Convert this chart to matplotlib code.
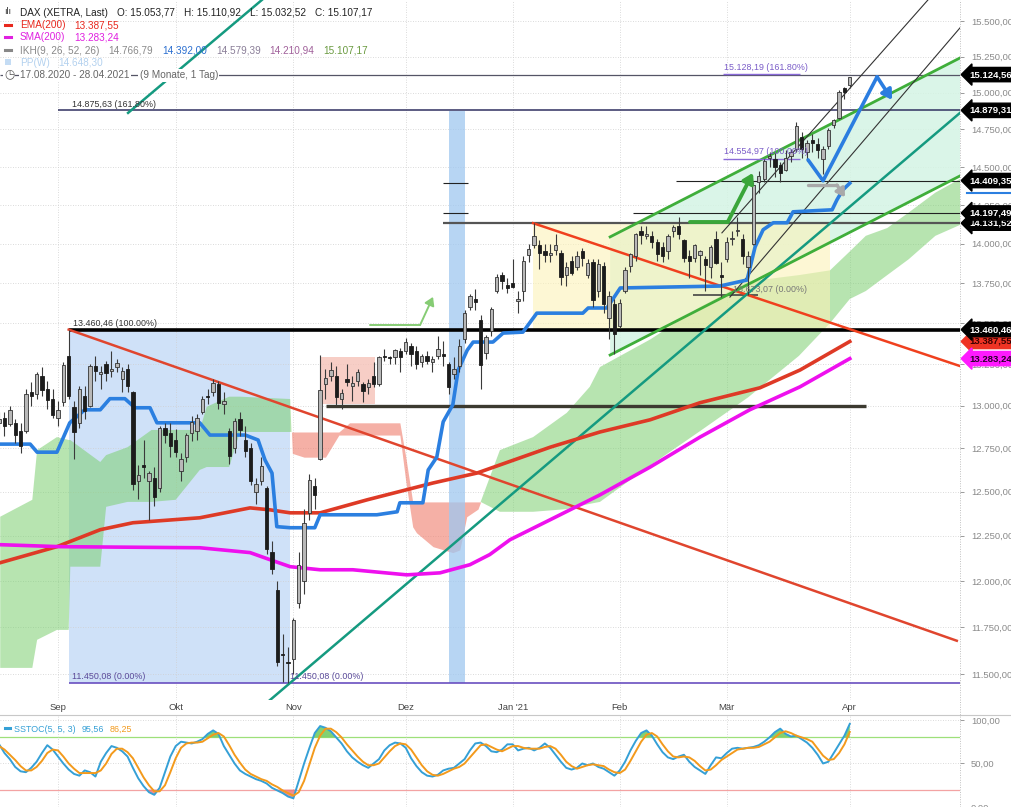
import numpy as np
import matplotlib
matplotlib.use("Agg")
import matplotlib.pyplot as plt
from matplotlib.patches import Rectangle, Polygon
from matplotlib.lines import Line2D

W, H, DPI = 1012, 807, 100
plt.rcParams['font.family'] = ['Liberation Sans', 'DejaVu Sans']

# ---------------- data ----------------
month_labels = ["Sep", "Okt", "Nov", "Dez", "Jan '21", "Feb", "Mär", "Apr"]
month_index = [11, 33, 55, 76, 96, 116, 136, 159]

opens = [12900,12930,12890,12900,12850,12850,13080,13070,13180,13100,13040,
         12930,13020,13300,12990,12900,13060,13000,13240,13190,13250,13210,13230,13160,13220,
         13080,12560,12650,12560,12580,12520,12870,12840,
         12800,12620,12700,12840,12850,12960,13060,13080,13130,13010,12850,12750,12920,12800,12750,12500,12560,12520,12160,11950,11600,11560,
         11580,11880,12000,12380,12530,12690,13130,13180,13180,13040,13160,13120,13150,13130,13110,13180,13130,13300,13290,13290,13330,
         13330,13360,13330,13260,13300,13260,13300,13310,13250,13190,13240,13400,13600,13650,13520,13320,13450,13700,13800,13740,
         13750,13640,13700,13930,13990,13990,13950,13930,13960,13940,13800,13890,13850,13950,13800,13880,13700,13860,13530,13620,
         13480,13700,13860,13920,14080,14050,14050,14010,13980,13950,14080,14110,14020,13920,13910,13930,13900,13850,14030,13800,
         13900,14030,14080,14030,13850,14000,14400,14420,14560,14550,14510,14480,14570,14620,14700,14600,14680,14650,14550,14640,14780,14830,15030,15053.77]
highs = [12960,12960,13000,12920,12900,13100,13140,13200,13230,13150,13100,
         13030,13260,13460.46,13030,13120,13120,13250,13300,13240,13270,13330,13280,13230,13250,
         13090,12650,12800,12620,12640,12880,12900,12900,
         12860,12720,12840,12940,12950,13060,13100,13160,13150,13080,12870,12930,12960,12880,12780,12580,12700,12530,12220,12000,11710,11640,
         11800,12160,12400,12600,12580,13308,13220,13260,13240,13100,13250,13180,13220,13140,13160,13260,13300,13340,13300,13340,13350,
         13410,13380,13360,13310,13330,13300,13420,13390,13260,13290,13400,13580,13680,13710,13550,13430,13600,13810,13820,13780,
         13900,13700,13920,14000,14131.52,14020,14000,14000,14060,13960,13880,13920,13950,13970,13900,13900,13900,13880,13700,13650,
         13650,13850,13940,14070,14110,14110,14080,14030,14010,14060,14120,14170,14030,13960,14000,13960,13920,13990,14080,13880,
         14040,14080,14170,14060,13950,14400,14470,14550,14600,14590,14530,14610,14620,14800,14730,14680,14720,14690,14640,14760,14820,15020,15040,15110.92]
lows = [12860,12820,12880,12780,12720,12840,13000,13040,13060,12980,12930,
        12880,13000,13040,12690,12870,12920,12990,13150,13100,13150,13170,13200,13080,13080,
        12510,12460,12580,12340,12420,12500,12780,12700,
        12700,12560,12670,12790,12800,12950,13010,13060,12980,12950,12660,12720,12820,12700,12540,12430,12540,12150,12040,11540,11460,11450.08,
        11500,11850,11930,12340,12400,12680,13040,13150,13000,12980,13120,13030,13120,13020,13070,13110,13120,13270,13250,13250,13200,
        13310,13240,13220,13230,13250,13200,13280,13240,13070,13160,13200,13380,13580,13580,13100,13280,13420,13690,13710,13690,
        13720,13560,13640,13880,13970,13840,13880,13880,13930,13740,13730,13800,13830,13860,13780,13600,13660,13560,13400,13310,
        13470,13690,13820,13890,14000,14030,13970,13890,13880,13900,14040,14030,13880,13780,13880,13800,13700,13780,13870,13660,
        13880,13990,14050,13870,13673.07,13990,14330,14400,14500,14430,14400,14470,14530,14600,14560,14540,14600,14560,14450,14620,14760,14820,14960,15032.52]
closes = [12920,12881,12977,12830,12765,13067,13061,13190,13096,13033,12945,
          12974,13243,13057,12842,13100,12968,13237,13209,13203,13194,13218,13255,13208,13116,
          12542,12594,12643,12606,12469,12870,12826,12761,
          12730,12689,12828,12906,12928,13042,13051,13138,13018,13028,12704,12909,12854,12736,12558,12543,12646,12177,12064,11561,11598,11556,
          11788,12089,12324,12568,12480,13096,13163,13217,13052,13077,13139,13133,13202,13087,13137,13127,13292,13290,13286,13335,13291,
          13382,13313,13252,13299,13271,13278,13340,13296,13114,13223,13362,13565,13667,13630,13246,13418,13587,13790,13761,13719,
          13726,13651,13892,13968,14050,13937,13925,13940,13989,13788,13848,13815,13921,13907,13874,13643,13871,13620,13666,13433,
          13622,13835,13933,14060,14057,14059,14012,13933,13921,14050,14109,14064,13909,13887,13993,13950,13865,13976,13879,13786,
          14012,14039,14080,13920,13920,14380,14437,14540,14569,14502,14461,14557,14596,14775,14621,14657,14662,14610,14621,14748,14817,15008,15008,15107.17]

price_ticks = [11500, 11750, 12000, 12250, 12500, 12750, 13000, 13250, 13500,
               13750, 14000, 14250, 14500, 14750, 15000, 15250, 15500]

# Ichimoku base line (blue)
kijun_idx = [0.2, 5.8, 7.1, 10.8, 13.2, 16, 18.9, 20.7, 23.5, 25.4, 28.2, 29.5, 37.5, 39.4, 46, 48.4,
             49.7, 51, 51.9, 54.4, 59, 60, 70.6, 74.4, 74.9, 79.2, 80.2, 81.8, 83, 84.8, 85.8, 87.5,
             88.6, 92.3, 94.2, 97.9, 100.5, 109.1, 110.1, 113.6, 116.1, 134.7, 139.8, 141.3, 142.8,
             144.7, 147.3, 148.4, 155.7, 156.6, 157.7, 159]
kijun_val = [12774, 12774, 12727, 12727, 12899, 12976, 12976, 13042, 13042, 12988, 12988, 12899, 12899,
             12827, 12827, 12798, 12681, 12606, 12301, 12295, 12295, 12368, 12368, 12385, 12436, 12436,
             12624, 12698, 12905, 13006, 13214, 13335, 13384, 13384, 13439, 13445, 13562, 13562, 13594,
             13594, 13719, 13731, 13769, 13979, 14089, 14134, 14134, 14205, 14218, 14283, 14348, 14392]

ema_idx = [0.2, 10.8, 18.9, 25, 37.5, 46.9, 50.6, 54.4, 60, 68.8, 81.1, 89.3, 93.6, 103, 112.3,
           121.7, 131, 142.2, 149.7, 159]
ema_val = [12100, 12189, 12284, 12323, 12351, 12407, 12396, 12379, 12379, 12453, 12549, 12606, 12653,
           12756, 12845, 12917, 13018, 13107, 13214, 13387.55]

sma_idx = [0.2, 11.4, 37.5, 46.9, 50.6, 54.4, 60, 66.1, 76.2, 82.4, 88, 91.7, 95.5, 103, 112.3,
           121.7, 131, 140.3, 149.7, 159]
sma_val = [12200, 12189, 12183, 12156, 12117, 12078, 12061, 12061, 12033, 12044, 12089, 12145, 12228,
           12340, 12481, 12641, 12815, 12976, 13113, 13283.24]

cloud_idx = [0.2, 6.2, 7.1, 10.8, 13.0, 13.3, 18.9, 20.0, 24.0, 28.5, 33.0, 37.5, 38.8, 43.0, 45.0, 54.4,
             54.8, 57.0, 61.0, 63.5, 65.5, 74.9, 76.0, 77.3, 78.0, 81.1, 84.8, 86.1, 87.4, 89.5,
             90.0, 93.6, 99.8, 106.1, 110.4, 112.3, 121.7, 131.0, 140.0, 149.5, 155.3, 159.0, 162.0,
             166.0, 170.0, 175.0, 179.6]
span_a = [12357, 12453, 12739, 12815, 12798, 12798, 12670, 12710, 12756, 12857, 12857, 12857, 12994, 13054,
          13054, 13040, 12720, 12698, 12698, 12827, 12827, 12827, 12560, 12300, 12267, 12189, 12156, 12171,
          12357, 12400, 12441, 12739, 12815, 12958, 13113, 13232, 13400, 13600, 13760, 13800, 13830, 13950,
          14050, 14100, 14200, 14330, 14420]
span_b = [11532, 11532, 11681, 11734, 11734, 12078, 12078, 12413, 12441, 12441, 12453, 12624, 12641, 12641,
          12845, 12845, 12845, 12845, 12845, 12845, 12899, 12899, 12700, 12441, 12441, 12441, 12441, 12441,
          12441, 12441, 12441, 12385, 12385, 12400, 12430, 12441, 12650, 12850, 13050, 13300, 13500, 13650,
          13700, 13800, 13900, 14050, 14120]

stoch_k = [72,62,55,46,41,40,45,52,62,71,66,58,50,43,38,36,42,40,35,52,62,70,68,64,58,45,33,24,17,14,
           22,40,58,70,75,74,73,75,78,84,88,84,70,60,50,42,38,35,32,30,27,22,19,16,12,10,30,50,68,85,
           93,91,87,80,73,64,57,52,48,45,50,55,65,71,74,73,68,56,47,40,36,35,37,42,44,45,50,55,65,73,
           74,70,64,63,66,72,72,65,67,68,65,68,73,68,60,52,45,43,45,50,48,50,46,44,40,36,42,52,65,76,
           85,88,82,72,63,57,55,58,60,52,46,42,38,48,57,56,62,67,68,67,68,69,71,75,80,86,90,84,81,82,
           78,74,68,60,50,52,62,72,82,95.56]
stoch_d = [70,66,60,54,47,42,42,46,53,62,66,65,58,50,44,39,39,39,39,42,50,61,67,67,63,56,45,34,25,18,
           18,25,40,56,68,73,74,74,75,79,83,85,81,71,60,51,43,38,35,32,30,26,23,19,16,13,17,30,49,68,
           82,90,90,86,80,72,65,58,52,48,48,50,57,64,70,73,72,66,57,48,41,37,36,38,41,44,46,50,57,64,
           71,72,69,66,64,67,70,70,68,67,67,67,69,70,67,60,52,47,44,46,48,49,48,47,43,40,39,43,53,64,
           75,83,85,81,72,64,58,57,58,57,53,47,42,43,48,54,58,62,66,67,68,68,69,72,75,80,85,87,85,82,
           80,78,75,67,59,54,55,62,72,86.25]

# drawn objects (index, price)
fib_high, fib_low = 13460.46, 11450.08
ext_upper, ext_left = 15128.19, 14875.63
red_line_1 = ([13, 179.0], [13460.46, 11676])
red_line_2 = ([99.8, 179.6], [14131.52, 13238])
teal_line_1 = ([46.9, 179.6], [11276, 14862])
teal_line_2 = ([24.1, 49.1], [14862, 15649])
green_up = ([114.2, 179.6], [14043, 15240])
green_low = ([114.2, 179.6], [13305, 14440])
thin_a = ([135.1, 173.6], [14069, 15649])
thin_b = ([136.6, 179.6], [13662, 15451])
blue_arrow = ([151.2, 154.0, 164.1, 166.9], [14546, 14408, 15109, 14951])
gray_arrow = ([151.2, 156.6, 158.1], [14380, 14380, 14300])
green_arrow = ([129.1, 136.2, 140.9], [14140, 14140, 14460])
small_arrow = ([69.3, 78.7, 81.1], [13490, 13490, 13663])

tags = [(15124.56, 'black', 'white'), (14879.31, 'black', 'white'), (14409.35, 'black', 'white'),
        (14131.52, 'black', 'white'), (14197.49, 'black', 'white'), (13387.55, '#ee3324', '#3a0000'),
        (13460.46, 'black', 'white'), (13283.24, '#ff1aff', '#2a002a')]

header_rows = [
    (12, [("DAX (XETRA, Last)", '#222222'), ("O: 15.053,77", '#222222'), ("H: 15.110,92", '#222222'),
          ("L: 15.032,52", '#222222'), ("C: 15.107,17", '#222222')]),
    (25, [("EMA(200)", '#e8281e'), ("13.387,55", '#e8281e')]),
    (37, [("SMA(200)", '#e020e0'), ("13.283,24", '#e020e0')]),
    (50, [("IKH(9, 26, 52, 26)", '#888888'), ("14.766,79", '#8a8a8a'), ("14.392,00", '#2b6fd0'),
          ("14.579,39", '#8a7e98'), ("14.210,94", '#a0609a'), ("15.107,17", '#6a9a40')]),
    (62, [("PP(W)", '#b3d1ef'), ("14.648,30", '#b3d1ef')]),
]


def de(v):
    s = f"{v:,.2f}"
    return s.replace(",", "X").replace(".", ",").replace("X", ".")


# ---------------- figure ----------------
fig = plt.figure(figsize=(W / DPI, H / DPI), dpi=DPI)
ax = fig.add_axes([0, 107 / H, 960 / W, 700 / H])
ax2 = fig.add_axes([0, 0, 960 / W, 92 / H])
XMIN, XMAX = 0.16, 179.6

ax.set_yscale('log')
ax.set_xlim(XMIN, XMAX)
ax.set_ylim(11364, 15649)
ax.yaxis.set_minor_locator(matplotlib.ticker.NullLocator())
ax.set_yticks(price_ticks)
ax.set_yticklabels([de(p) for p in price_ticks])
ax.yaxis.tick_right()
ax.tick_params(axis='y', colors='#8a8a8a', labelsize=6.8, length=3, pad=5, width=0.6)
ax.set_xticks(month_index)
ax.set_xticklabels(month_labels)
ax.tick_params(axis='x', colors='#444444', labelsize=6.8, length=0, pad=2)
for s in ax.spines.values():
    s.set_visible(False)
ax.grid(True, color='#cfcfcf', linestyle=(0, (1, 2)), linewidth=0.6, zorder=0)
ax.set_axisbelow(True)

idx = np.arange(len(closes))
o = np.array(opens, float); c = np.array(closes, float)
hi = np.array(highs, float); lo = np.array(lows, float)

# shaded zones
ax.add_patch(Rectangle((13, fib_low), 54.4 - 13, fib_high - fib_low, facecolor='#cfe1f8', edgecolor='none', zorder=0.5))
ax.add_patch(Polygon([(green_up[0][0], green_up[1][0]), (green_up[0][1], green_up[1][1]),
                      (green_low[0][1], green_low[1][1]), (green_low[0][0], green_low[1][0])],
                     closed=True, facecolor='#d4f4e4', edgecolor='none', alpha=0.85, zorder=0.6))

# cloud
ca = np.array(span_a, float); cb = np.array(span_b, float)
ax.fill_between(cloud_idx, ca, cb, where=ca >= cb, interpolate=True, color='#7ccf70', alpha=0.55, lw=0, zorder=1)
ax.fill_between(cloud_idx, ca, cb, where=ca < cb, interpolate=True, color='#f08070', alpha=0.62, lw=0, zorder=1)

# boxes over the cloud
ax.add_patch(Rectangle((99.8, 13460.46), 155.3 - 99.8, 14131.52 - 13460.46, facecolor='#fdf3b8', edgecolor='none', alpha=0.6, zorder=1.5))
ax.add_patch(Rectangle((60, 13012), 70.3 - 60, 13293 - 13012, facecolor='#f6c2b8', edgecolor='none', alpha=0.8, zorder=1.5))
ax.add_patch(Rectangle((84.1, fib_low), 87.1 - 84.1, ext_left - fib_low, facecolor='#9fc7f0', edgecolor='none', alpha=0.75, zorder=1.6))

# horizontal levels
ax.hlines(15124.56, XMIN, XMAX, color='#555566', lw=0.9, zorder=3)
ax.hlines(14879.31, 11, XMAX, color='#303060', lw=1.1, zorder=3)
ax.hlines(14409.35, 126.5, XMAX, color='#222222', lw=0.8, zorder=3)
ax.hlines(14197.49, 118.5, XMAX, color='#222222', lw=0.8, zorder=3)
ax.hlines(14197.49, 83, 87.6, color='#222222', lw=0.8, zorder=3)
ax.hlines(14394, 83, 87.6, color='#222222', lw=0.8, zorder=3)
ax.hlines(14131.52, 83, XMAX, color='#555555', lw=1.6, zorder=3)
ax.hlines(fib_high, 13, XMAX, color='black', lw=2.6, zorder=3)
ax.hlines(13000, 61.1, 162, color='#3c3a30', lw=2.4, zorder=3)
ax.hlines(fib_low, 13, XMAX, color='#6a4fc0', lw=1.2, zorder=3)
ax.hlines(13673.07, 129.7, 141.8, color='#444444', lw=1.2, zorder=3)
ax.hlines([ext_upper, 14554.97], 135.3, 149.7, color='#8a6ad8', lw=1.0, zorder=3.1)

# trend lines
ax.plot(*red_line_1, color='#e0452e', lw=1.8, zorder=3)
ax.plot(*red_line_2, color='#f0401e', lw=1.8, zorder=3)
ax.plot(*teal_line_1, color='#159a80', lw=1.8, zorder=3)
ax.plot(*teal_line_2, color='#159a80', lw=1.8, zorder=3)
ax.plot(*green_up, color='#3fae3a', lw=2.0, zorder=3)
ax.plot(*green_low, color='#3fae3a', lw=2.0, zorder=3)
ax.plot(*thin_a, color='#333333', lw=0.8, zorder=3)
ax.plot(*thin_b, color='#333333', lw=0.8, zorder=3)

# moving averages + base line
ax.plot(ema_idx, ema_val, color='#de3a26', lw=2.6, zorder=4)
ax.plot(sma_idx, sma_val, color='#ee10ee', lw=2.6, zorder=4)
ax.plot(kijun_idx, kijun_val, color='#2b7fe0', lw=2.6, zorder=4.2)

# candles
ax.vlines(idx, lo, hi, color='#3a3a3a', lw=0.8, zorder=6)
bb = np.minimum(o, c); bt = np.maximum(o, c)
ht = np.maximum(bt - bb, 8)
up = c >= o
ax.bar(idx[up], ht[up], bottom=bb[up], width=0.62, color='#b8b8b8', edgecolor='#333333', linewidth=0.6, zorder=7)
ax.bar(idx[~up], ht[~up], bottom=bb[~up], width=0.62, color='#1c1c1c', edgecolor='#1c1c1c', linewidth=0.6, zorder=7)

# arrows
def arrow_path(xs, ys, color, lw, hw):
    ax.plot(xs[:-1], ys[:-1], color=color, lw=lw, zorder=8, solid_capstyle='round')
    ax.annotate('', xy=(xs[-1], ys[-1]), xytext=(xs[-2], ys[-2]),
                arrowprops=dict(arrowstyle=f'-|>,head_width={hw},head_length={hw*1.6}', color=color, lw=lw,
                                shrinkA=0, shrinkB=0), zorder=8)

arrow_path(*blue_arrow, '#2b7de0', 2.6, 0.35)
arrow_path(*gray_arrow, '#a9a9a9', 2.4, 0.3)
arrow_path(*green_arrow, '#3aa63a', 2.8, 0.35)
arrow_path(*small_arrow, '#86cc74', 1.4, 0.3)

# level labels
def lab(x, y, s, col, dy=1.5):
    ax.annotate(s, xy=(x, y), xytext=(0, dy), textcoords='offset points', fontsize=6.4, color=col,
                va='bottom', ha='left', zorder=9)

lab(13.6, ext_left, "14.875,63 (161.80%)", '#333333')
lab(13.8, fib_high, "13.460,46 (100.00%)", '#333333')
lab(13.6, fib_low, "11.450,08 (0.00%)", '#5a4a9a')
lab(54.4, fib_low, "11.450,08 (0.00%)", '#5a4a9a')
lab(135.4, ext_upper, "15.128,19 (161.80%)", '#7a5cc8')
lab(135.4, 14554.97, "14.554,97 (100.00%)", '#7a5cc8')
lab(137.2, 13673.07, "13.673,07 (0.00%)", '#777777', dy=1)

# price tags
for p, fc, tc in tags:
    ax.text(181.3, p, de(p), fontsize=6.8, fontweight='bold', color=tc, ha='left', va='center',
            clip_on=False, zorder=20,
            bbox=dict(boxstyle='larrow,pad=0.28', facecolor=fc, edgecolor=fc))
ax.plot([181.0, 189.3], [14330, 14330], color='#2b7fe0', lw=1.5, clip_on=False, zorder=21)

# ---------------- stochastic panel ----------------
k = np.array(stoch_k, float); d = np.array(stoch_d, float)
ax2.set_xlim(XMIN, XMAX)
ax2.set_ylim(0, 105.7)
ax2.set_xticks(month_index)
ax2.set_xticklabels([])
ax2.set_yticks([0, 50, 100])
ax2.set_yticklabels(['0,00', '50,00', '100,00'])
ax2.yaxis.tick_right()
ax2.tick_params(axis='y', colors='#8a8a8a', labelsize=6.8, length=3, pad=5, width=0.6)
ax2.tick_params(axis='x', length=0)
for s in ax2.spines.values():
    s.set_visible(False)
ax2.grid(True, color='#cfcfcf', linestyle=(0, (1, 2)), linewidth=0.6, zorder=0)
ax2.axhline(80, color='#9ee07a', lw=0.9, zorder=1)
ax2.axhline(20, color='#f3a3a3', lw=0.9, zorder=1)
ax2.fill_between(idx, k, 80, where=k > 80, interpolate=True, color='#6cc95a', alpha=0.85, lw=0, zorder=2)
ax2.fill_between(idx, k, 20, where=k < 20, interpolate=True, color='#f07a7a', alpha=0.85, lw=0, zorder=2)
ax2.plot(idx, k, color='#35a0d6', lw=1.4, zorder=3)
ax2.plot(idx, d, color='#f39a1c', lw=1.4, zorder=4)

# ---------------- frame lines ----------------
fig.add_artist(Line2D([0, 1], [1 - 715 / H, 1 - 715 / H], transform=fig.transFigure, color='#c8c8c8', lw=0.8))
fig.add_artist(Line2D([960 / W, 960 / W], [0, 1], transform=fig.transFigure, color='#c0c0c0', lw=0.7,
                      linestyle=(0, (1, 1.5))))

# ---------------- header legend ----------------
renderer = fig.canvas.get_renderer()

def seq(x, y, parts, size, gap=8, bbox=None):
    for s, col in parts:
        kw = {} if bbox is None else {'bbox': bbox}
        t = fig.text(x / W, 1 - (y + 3.5) / H, s, color=col, fontsize=size, va='baseline', ha='left',
                     zorder=10, **kw)
        ext = t.get_window_extent(renderer)
        x = ext.x1 + gap

def dash(y, col, x0=5, x1=11):
    fig.add_artist(Line2D([x0 / W, x1 / W], [1 - y / H, 1 - y / H], transform=fig.transFigure, color=col, lw=2.2))

HS = 7.2
fig.text(4 / W, 1 - 12 / H, "ılı", color='#333333', fontsize=6.5, va='center', ha='left')
for y, parts in header_rows:
    seq(20, y, parts, HS, gap=9)
dash(25, '#e8281e'); dash(37, '#e020e0'); dash(50, '#888888')
fig.add_artist(Rectangle((5 / W, 1 - 65 / H), 6 / W, 6 / H, transform=fig.transFigure, facecolor='#c4dcf4', edgecolor='none'))
fig.text(4 / W, 1 - 75 / H, "◷", color='#555555', fontsize=8.5, va='center', ha='left', family=['DejaVu Sans'],
         bbox=dict(facecolor='white', edgecolor='none', pad=0.5))
seq(20, 75, [("17.08.2020 - 28.04.2021", '#666666'), ("(9 Monate, 1 Tag)", '#666666')], HS, gap=10,
    bbox=dict(facecolor='white', edgecolor='none', pad=1.0))

# stochastic legend
dash(728, '#35a0d6', 5, 10)
seq(14, 728, [("SSTOC(5, 5, 3)", '#35a0d6'), ("95,56", '#35a0d6'), ("86,25", '#f39a1c')], 6.4, gap=6)

fig.savefig("out.png", dpi=DPI)
